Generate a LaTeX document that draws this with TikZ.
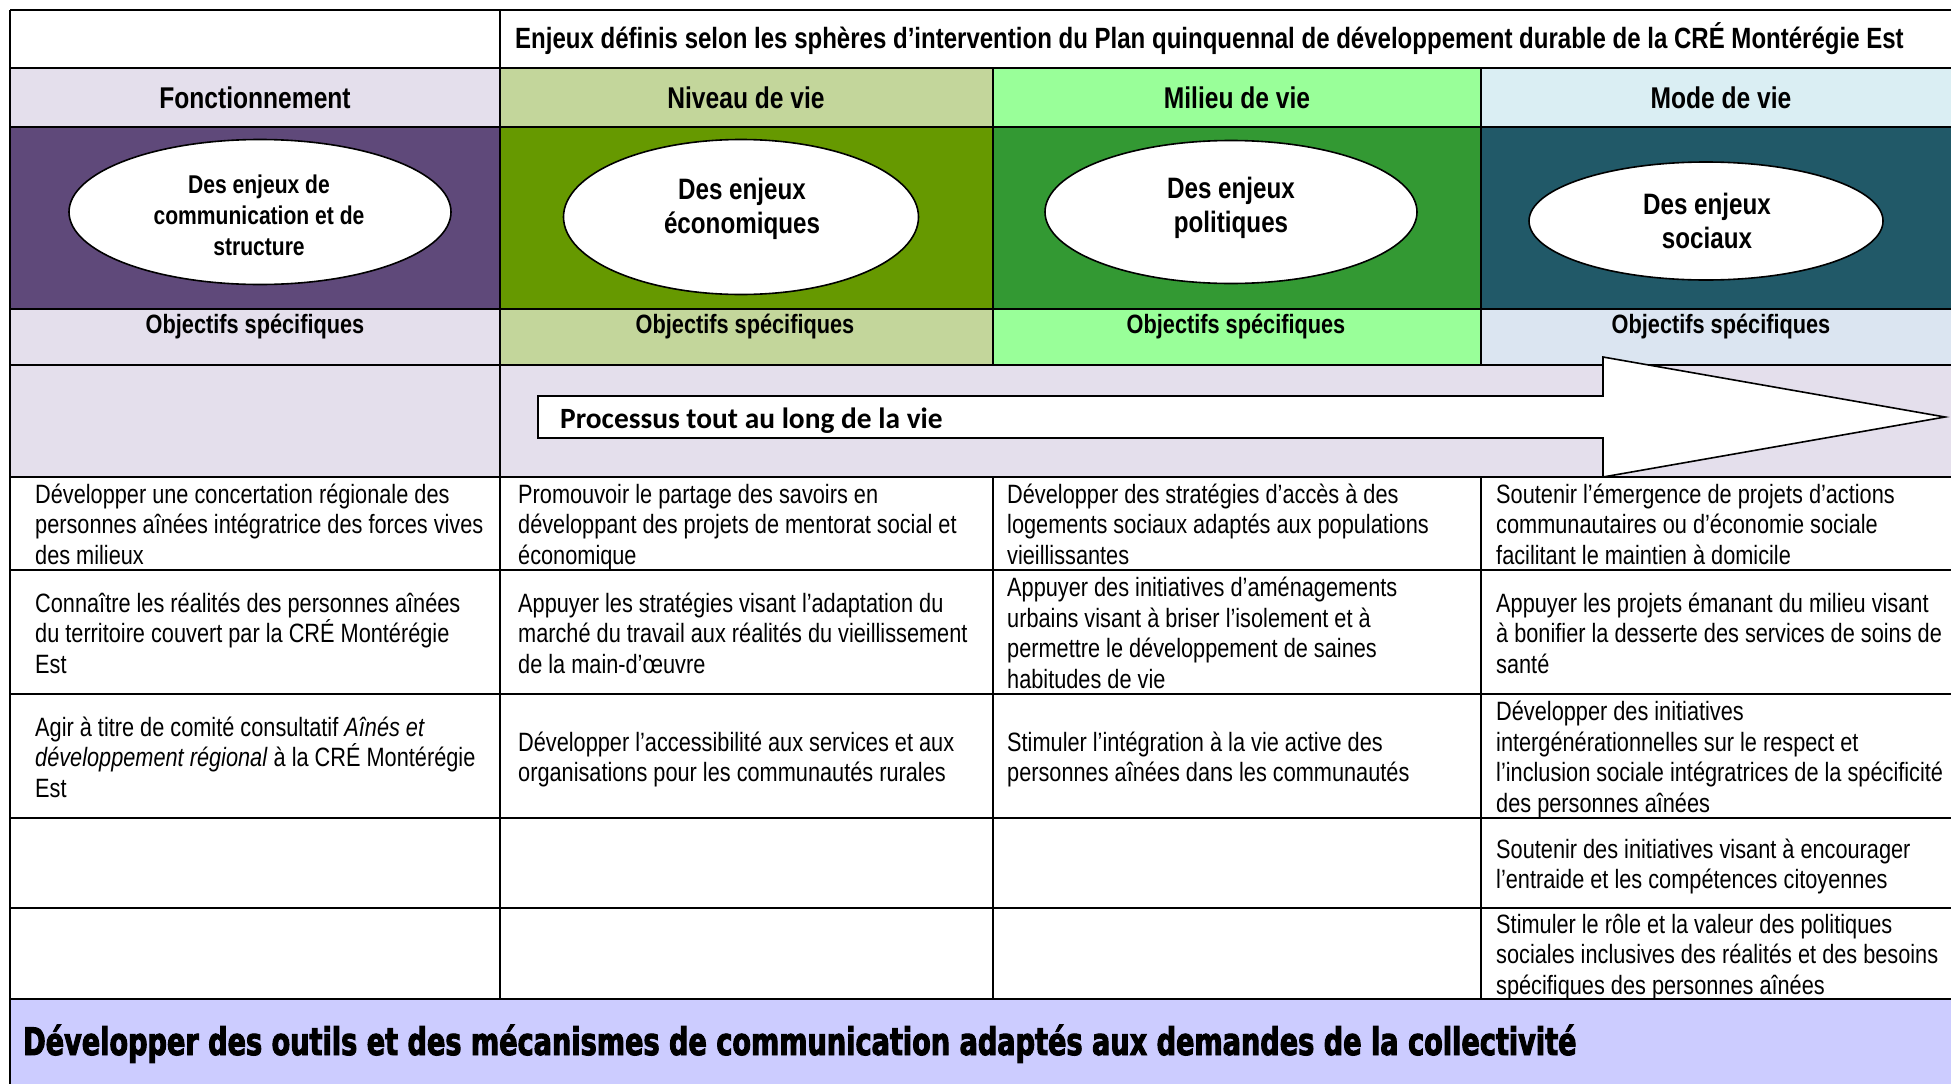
\documentclass[tikz,border=0pt]{standalone}
\usepackage{fontspec}
\setmainfont{Liberation Sans}[FakeStretch=0.82]
\newfontfamily\calibrifont{Carlito}
\newfontfamily\heavyfont{DejaVu Sans}[FakeStretch=0.714,FakeBold=2.5]
\usepackage{tikz}
\usetikzlibrary{shapes.geometric}
\definecolor{lilas}{HTML}{E4DFEC}
\definecolor{violet}{HTML}{5F497A}
\definecolor{oliveclair}{HTML}{C3D69B}
\definecolor{olivefonce}{HTML}{669900}
\definecolor{vertclair}{HTML}{99FF99}
\definecolor{vertfonce}{HTML}{339933}
\definecolor{bleuclair}{HTML}{DAEEF3}
\definecolor{bleuobj}{HTML}{DBE5F1}
\definecolor{sarcelle}{HTML}{215968}
\definecolor{bande}{HTML}{CCCCFF}

\begin{document}
\begin{tikzpicture}[x=1pt,y=-1pt,
    grille/.style={line width=2.5pt},
    txt/.style={anchor=west,align=left,inner sep=0pt,yshift=-5.5pt,font=\fontsize{26.5}{30.5}\selectfont,
      execute at begin node=\strut,execute at end node=\strut},
    entete/.style={inner sep=0pt,font=\fontsize{30}{34}\selectfont\bfseries},
    objectif/.style={anchor=base,inner sep=0pt,font=\fontsize{26.5}{30}\selectfont\bfseries},
    bulle/.style={ellipse,draw,fill=white,line width=1.6pt,inner sep=0pt},
    bulletxt/.style={align=center,inner sep=0pt,font=\fontsize{29.5}{34}\selectfont\bfseries}
  ]
  \useasboundingbox (0,0) rectangle (1951,1084);

  % fonds
  \fill[lilas] (10,68) rectangle (500,127);
  \fill[oliveclair] (500,68) rectangle (993,127);
  \fill[vertclair] (993,68) rectangle (1481,127);
  \fill[bleuclair] (1481,68) rectangle (1951,127);
  \fill[violet] (10,127) rectangle (500,309);
  \fill[olivefonce] (500,127) rectangle (993,309);
  \fill[vertfonce] (993,127) rectangle (1481,309);
  \fill[sarcelle] (1481,127) rectangle (1951,309);
  \fill[lilas] (10,309) rectangle (500,365);
  \fill[oliveclair] (500,309) rectangle (993,365);
  \fill[vertclair] (993,309) rectangle (1481,365);
  \fill[bleuobj] (1481,309) rectangle (1951,365);
  \fill[lilas] (10,365) rectangle (1951,477);
  \fill[bande] (10,999) rectangle (1951,1084);

  % grille
  \foreach \y in {10,68,127,309,365,477,570,694,818,908,999}
    \draw[grille] (10,\y) -- (1951,\y);
  \draw[grille] (10,10) -- (10,1084);
  \draw[grille] (500,10) -- (500,999);
  \foreach \x in {993,1481} {
    \draw[grille] (\x,68) -- (\x,365);
    \draw[grille] (\x,477) -- (\x,999);
  }

  % titre et spheres
  \node[anchor=west,inner sep=0pt,font=\fontsize{29.3}{34}\selectfont\bfseries] (titre) at (515,39)
    {Enjeux définis selon les sphères d’intervention du Plan quinquennal de développement durable de la CRÉ Montérégie Est};
  \node[entete] (fonct) at (255,98) {Fonctionnement};
  \node[entete] (niveau) at (746,98) {Niveau de vie};
  \node[entete] (milieu) at (1237,98) {Milieu de vie};
  \node[entete] (mode) at (1721,98) {Mode de vie};

  % enjeux
  \node[bulle,minimum width=382pt,minimum height=145pt] (e1) at (260,212) {};
  \node[bulle,minimum width=355pt,minimum height=155pt] (e2) at (741,217) {};
  \node[bulle,minimum width=372pt,minimum height=143pt] (e3) at (1231,212) {};
  \node[bulle,minimum width=354pt,minimum height=118pt] (e4) at (1706,221) {};
  \node[bulletxt,font=\fontsize{25.7}{31}\selectfont\bfseries] (t1) at (259,215) {Des enjeux de\\communication et de\\structure};
  \node[bulletxt] (t2) at (742,209) {Des enjeux\\économiques};
  \node[bulletxt] (t3) at (1231,208) {Des enjeux\\politiques};
  \node[bulletxt] (t4) at (1707,221) {Des enjeux\\sociaux};

  \node[objectif] (o1) at (255,333) {Objectifs spécifiques};
  \node[objectif] (o2) at (745,333) {Objectifs spécifiques};
  \node[objectif] (o3) at (1236,333) {Objectifs spécifiques};
  \node[objectif] (o4) at (1721,333) {Objectifs spécifiques};

  % fleche du processus
  \draw[line width=1.6pt,fill=white] (538,396) -- (1603,396) -- (1603,357) -- (1945,417)
    -- (1603,477) -- (1603,438) -- (538,438) -- cycle;
  \node[anchor=base west,inner sep=0pt,font=\calibrifont\bfseries\fontsize{29.4}{34}\selectfont] (proc) at (560,428)
    {Processus tout au long de la vie};

  % objectifs
  \node[txt] (a1) at (35,523) {Développer une concertation régionale des\\personnes aînées intégratrice des forces vives\\des milieux};
  \node[txt] (b1) at (35,632) {Connaître les réalités des personnes aînées\\du territoire couvert par la CRÉ Montérégie\\Est};
  \node[txt] (c1) at (35,756) {Agir à titre de comité consultatif \textit{Aînés et}\\\textit{développement régional} à la CRÉ Montérégie\\Est};

  \node[txt] (a2) at (518,523) {Promouvoir le partage des savoirs en\\développant des projets de mentorat social et\\économique};
  \node[txt] (b2) at (518,632) {Appuyer les stratégies visant l’adaptation du\\marché du travail aux réalités du vieillissement\\de la main-d’œuvre};
  \node[txt] (c2) at (518,756) {Développer l’accessibilité aux services et aux\\organisations pour les communautés rurales};

  \node[txt] (a3) at (1007,523) {Développer des stratégies d’accès à des\\logements sociaux adaptés aux populations\\vieillissantes};
  \node[txt] (b3) at (1007,632) {Appuyer des initiatives d’aménagements\\urbains visant à briser l’isolement et à\\permettre le développement de saines\\habitudes de vie};
  \node[txt] (c3) at (1007,756) {Stimuler l’intégration à la vie active des\\personnes aînées dans les communautés};

  \node[txt] (a4) at (1496,523) {Soutenir l’émergence de projets d’actions\\communautaires ou d’économie sociale\\facilitant le maintien à domicile};
  \node[txt] (b4) at (1496,632) {Appuyer les projets émanant du milieu visant\\à bonifier la desserte des services de soins de\\santé};
  \node[txt] (c4) at (1496,756) {Développer des initiatives\\intergénérationnelles sur le respect et\\l’inclusion sociale intégratrices de la spécificité\\des personnes aînées};
  \node[txt] (d4) at (1496,863) {Soutenir des initiatives visant à encourager\\l’entraide et les compétences citoyennes};
  \node[txt] (f4) at (1496,953) {Stimuler le rôle et la valeur des politiques\\sociales inclusives des réalités et des besoins\\spécifiques des personnes aînées};

  % bandeau
  \node[anchor=base west,inner sep=0pt,font=\heavyfont\bfseries\fontsize{38}{42}\selectfont] (outils) at (23,1055)
    {Développer des outils et des mécanismes de communication adaptés aux demandes de la collectivité};
\end{tikzpicture}
\end{document}
